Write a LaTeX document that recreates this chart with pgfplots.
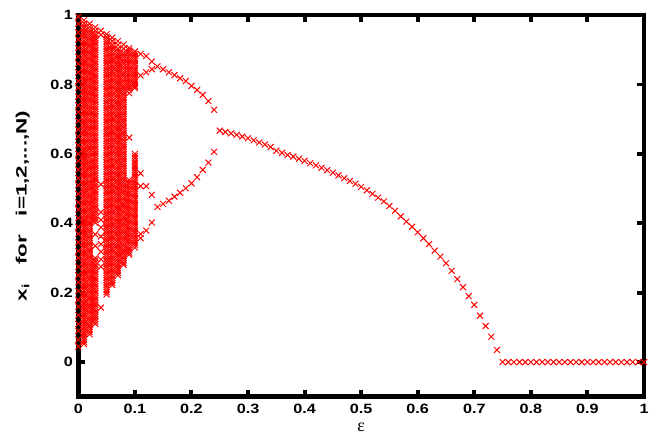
\documentclass[border=0pt]{standalone}
\usepackage{pgfplots}
\pgfplotsset{compat=1.18}
\usepackage{fontspec}
\newfontfamily\tickfont{Liberation Sans}[FakeStretch=1.2]
\newfontfamily\labfont{Liberation Sans}
\newfontfamily\epsfont{Liberation Serif}
\begin{document}
\begin{tikzpicture}
\begin{axis}[
  scale only axis, width=565.7bp, height=381.7bp,
  xmin=0, xmax=1, ymin=-0.1, ymax=1,
  axis on top,
  axis line style={line width=4.8pt, black},
  xtick={0,0.1,0.2,0.3,0.4,0.5,0.6,0.7,0.8,0.9,1},
  xticklabels={0,0.1,0.2,0.3,0.4,0.5,0.6,0.7,0.8,0.9,1},
  ytick={0,0.2,0.4,0.6,0.8,1},
  yticklabels={0,0.2,0.4,0.6,0.8,1},
  tick align=inside, major tick length=7bp,
  tick style={line width=4pt, black},
  tick label style={font=\tickfont\bfseries\fontsize{13.5bp}{15bp}\selectfont},
  yticklabel style={xshift=-2bp},
  xticklabel style={yshift=-3.5bp},
  xlabel={\epsfont\fontsize{18bp}{20bp}\selectfont ε},
  xlabel style={at={(axis description cs:0.5,0)}, anchor=center, yshift=-31bp},
  ylabel={\labfont\bfseries\fontsize{15bp}{17bp}\selectfont\scalebox{1.5}[1]{x\textsubscript{i}\ \ \ for\ \ \ i=1,2,...,N)}},
  ylabel style={at={(axis description cs:-0.098,0.5)}, anchor=center},
  pts/.style={only marks, mark=x, color=red, mark size=4.2pt, mark options={line width=1pt}},
]
% epsilon = 0.00
\addplot[pts] coordinates {(0,.045)(0,.065)(0,.09)(0,.11)(0,.135)(0,.16)(0,.18)(0,.205)(0,.23)(0,.25)(0,.275)(0,.30)(0,.32)(0,.345)(0,.37)(0,.39)(0,.415)(0,.44)(0,.46)(0,.485)(0,.51)(0,.53)(0,.555)(0,.58)(0,.60)(0,.625)(0,.65)(0,.67)(0,.695)(0,.72)(0,.74)(0,.765)(0,.79)(0,.81)(0,.835)(0,.86)(0,.88)(0,.905)(0,.93)(0,.95)(0,.975)(0,.995)};
% epsilon = 0.01
\addplot[pts] coordinates {(0.01,.052)(0.01,.065)(0.01,.079)(0.01,.092)(0.01,.106)(0.01,.119)(0.01,.133)(0.01,.146)(0.01,.160)(0.01,.172)(0.01,.187)(0.01,.199)(0.01,.214)(0.01,.226)(0.01,.240)(0.01,.254)(0.01,.266)(0.01,.281)(0.01,.293)(0.01,.308)(0.01,.320)(0.01,.335)(0.01,.347)(0.01,.362)(0.01,.375)(0.01,.388)(0.01,.402)(0.01,.414)(0.01,.429)(0.01,.441)(0.01,.456)(0.01,.468)(0.01,.483)(0.01,.495)(0.01,.510)(0.01,.522)(0.01,.537)(0.01,.549)(0.01,.564)(0.01,.577)(0.01,.590)(0.01,.604)(0.01,.616)(0.01,.631)(0.01,.643)(0.01,.658)(0.01,.670)(0.01,.685)(0.01,.697)(0.01,.712)(0.01,.724)(0.01,.739)(0.01,.752)(0.01,.765)(0.01,.779)(0.01,.791)(0.01,.806)(0.01,.818)(0.01,.833)(0.01,.845)(0.01,.860)(0.01,.872)(0.01,.887)(0.01,.899)(0.01,.914)(0.01,.926)(0.01,.941)(0.01,.953)(0.01,.968)(0.01,.985)};
\addplot[pts] coordinates {(0.01,.058)(0.01,.072)(0.01,.085)(0.01,.099)(0.01,.112)(0.01,.126)(0.01,.139)(0.01,.153)(0.01,.166)(0.01,.180)(0.01,.193)(0.01,.207)(0.01,.220)(0.01,.233)(0.01,.247)(0.01,.260)(0.01,.274)(0.01,.287)(0.01,.301)(0.01,.314)(0.01,.328)(0.01,.341)(0.01,.355)(0.01,.368)(0.01,.381)(0.01,.395)(0.01,.408)(0.01,.422)(0.01,.435)(0.01,.449)(0.01,.462)(0.01,.476)(0.01,.489)(0.01,.503)(0.01,.516)(0.01,.530)(0.01,.543)(0.01,.557)(0.01,.570)(0.01,.584)(0.01,.597)(0.01,.610)(0.01,.624)(0.01,.637)(0.01,.651)(0.01,.664)(0.01,.678)(0.01,.691)(0.01,.705)(0.01,.718)(0.01,.732)(0.01,.745)(0.01,.758)(0.01,.772)(0.01,.785)(0.01,.799)(0.01,.812)(0.01,.826)(0.01,.839)(0.01,.853)(0.01,.866)(0.01,.880)(0.01,.893)(0.01,.907)(0.01,.920)(0.01,.934)(0.01,.947)(0.01,.961)(0.01,.976)};
% epsilon = 0.02
\addplot[pts] coordinates {(0.02,.080)(0.02,.094)(0.02,.107)(0.02,.121)(0.02,.134)(0.02,.148)(0.02,.161)(0.02,.175)(0.02,.188)(0.02,.202)(0.02,.215)(0.02,.229)(0.02,.242)(0.02,.256)(0.02,.269)(0.02,.283)(0.02,.296)(0.02,.310)(0.02,.323)(0.02,.337)(0.02,.350)(0.02,.364)(0.02,.377)(0.02,.391)(0.02,.404)(0.02,.418)(0.02,.431)(0.02,.445)(0.02,.458)(0.02,.472)(0.02,.485)(0.02,.499)(0.02,.512)(0.02,.526)(0.02,.539)(0.02,.553)(0.02,.566)(0.02,.580)(0.02,.593)(0.02,.607)(0.02,.620)(0.02,.634)(0.02,.647)(0.02,.661)(0.02,.674)(0.02,.688)(0.02,.701)(0.02,.715)(0.02,.728)(0.02,.742)(0.02,.755)(0.02,.769)(0.02,.782)(0.02,.796)(0.02,.809)(0.02,.823)(0.02,.836)(0.02,.850)(0.02,.863)(0.02,.877)(0.02,.890)(0.02,.904)(0.02,.917)(0.02,.931)(0.02,.944)(0.02,.958)(0.02,.975)};
\addplot[pts] coordinates {(0.02,.087)(0.02,.101)(0.02,.114)(0.02,.128)(0.02,.141)(0.02,.155)(0.02,.168)(0.02,.182)(0.02,.195)(0.02,.209)(0.02,.222)(0.02,.236)(0.02,.249)(0.02,.263)(0.02,.276)(0.02,.290)(0.02,.303)(0.02,.317)(0.02,.330)(0.02,.344)(0.02,.357)(0.02,.371)(0.02,.384)(0.02,.398)(0.02,.411)(0.02,.425)(0.02,.438)(0.02,.452)(0.02,.465)(0.02,.479)(0.02,.492)(0.02,.506)(0.02,.519)(0.02,.533)(0.02,.546)(0.02,.560)(0.02,.573)(0.02,.587)(0.02,.600)(0.02,.614)(0.02,.627)(0.02,.641)(0.02,.654)(0.02,.668)(0.02,.681)(0.02,.695)(0.02,.708)(0.02,.722)(0.02,.735)(0.02,.749)(0.02,.762)(0.02,.776)(0.02,.789)(0.02,.803)(0.02,.816)(0.02,.830)(0.02,.843)(0.02,.857)(0.02,.870)(0.02,.884)(0.02,.897)(0.02,.911)(0.02,.924)(0.02,.938)(0.02,.951)(0.02,.966)};
% epsilon = 0.03
\addplot[pts] coordinates {(0.03,.110)(0.03,.124)(0.03,.137)(0.03,.151)(0.03,.165)(0.03,.178)(0.03,.192)(0.03,.205)(0.03,.219)(0.03,.233)(0.03,.246)(0.03,.260)(0.03,.274)(0.03,.287)(0.03,.300)(0.03,.335)(0.03,.368)(0.03,.402)(0.03,.416)(0.03,.429)(0.03,.443)(0.03,.457)(0.03,.470)(0.03,.484)(0.03,.497)(0.03,.511)(0.03,.525)(0.03,.538)(0.03,.552)(0.03,.566)(0.03,.579)(0.03,.593)(0.03,.606)(0.03,.620)(0.03,.634)(0.03,.647)(0.03,.661)(0.03,.675)(0.03,.688)(0.03,.702)(0.03,.715)(0.03,.729)(0.03,.743)(0.03,.756)(0.03,.770)(0.03,.784)(0.03,.797)(0.03,.811)(0.03,.824)(0.03,.838)(0.03,.852)(0.03,.865)(0.03,.879)(0.03,.893)(0.03,.906)(0.03,.920)(0.03,.933)(0.03,.947)(0.03,.965)};
\addplot[pts] coordinates {(0.03,.117)(0.03,.131)(0.03,.144)(0.03,.158)(0.03,.171)(0.03,.185)(0.03,.199)(0.03,.212)(0.03,.226)(0.03,.240)(0.03,.253)(0.03,.267)(0.03,.280)(0.03,.293)(0.03,.409)(0.03,.422)(0.03,.436)(0.03,.450)(0.03,.463)(0.03,.477)(0.03,.491)(0.03,.504)(0.03,.518)(0.03,.531)(0.03,.545)(0.03,.559)(0.03,.572)(0.03,.586)(0.03,.600)(0.03,.613)(0.03,.627)(0.03,.640)(0.03,.654)(0.03,.668)(0.03,.681)(0.03,.695)(0.03,.709)(0.03,.722)(0.03,.736)(0.03,.750)(0.03,.763)(0.03,.777)(0.03,.790)(0.03,.804)(0.03,.818)(0.03,.831)(0.03,.845)(0.03,.859)(0.03,.872)(0.03,.886)(0.03,.899)(0.03,.913)(0.03,.927)(0.03,.940)(0.03,.955)};
% epsilon = 0.04
\addplot[pts] coordinates {(0.04,.955)(0.04,.943)(0.04,.512)(0.04,.432)(0.04,.410)(0.04,.388)(0.04,.362)(0.04,.340)(0.04,.318)(0.04,.296)(0.04,.275)(0.04,.157)};
% epsilon = 0.05
\addplot[pts] coordinates {(0.05,.195)(0.05,.209)(0.05,.222)(0.05,.236)(0.05,.250)(0.05,.263)(0.05,.277)(0.05,.290)(0.05,.304)(0.05,.318)(0.05,.331)(0.05,.345)(0.05,.358)(0.05,.372)(0.05,.386)(0.05,.399)(0.05,.413)(0.05,.426)(0.05,.440)(0.05,.454)(0.05,.467)(0.05,.481)(0.05,.494)(0.05,.508)(0.05,.522)(0.05,.535)(0.05,.549)(0.05,.562)(0.05,.576)(0.05,.590)(0.05,.603)(0.05,.617)(0.05,.630)(0.05,.644)(0.05,.658)(0.05,.671)(0.05,.685)(0.05,.698)(0.05,.712)(0.05,.726)(0.05,.739)(0.05,.753)(0.05,.766)(0.05,.780)(0.05,.794)(0.05,.807)(0.05,.821)(0.05,.834)(0.05,.848)(0.05,.862)(0.05,.875)(0.05,.889)(0.05,.902)(0.05,.916)(0.05,.930)(0.05,.945)};
\addplot[pts] coordinates {(0.05,.202)(0.05,.216)(0.05,.229)(0.05,.243)(0.05,.256)(0.05,.270)(0.05,.284)(0.05,.297)(0.05,.311)(0.05,.324)(0.05,.338)(0.05,.352)(0.05,.365)(0.05,.379)(0.05,.392)(0.05,.406)(0.05,.420)(0.05,.433)(0.05,.447)(0.05,.460)(0.05,.474)(0.05,.488)(0.05,.501)(0.05,.515)(0.05,.528)(0.05,.542)(0.05,.556)(0.05,.569)(0.05,.583)(0.05,.596)(0.05,.610)(0.05,.624)(0.05,.637)(0.05,.651)(0.05,.664)(0.05,.678)(0.05,.692)(0.05,.705)(0.05,.719)(0.05,.732)(0.05,.746)(0.05,.760)(0.05,.773)(0.05,.787)(0.05,.800)(0.05,.814)(0.05,.828)(0.05,.841)(0.05,.855)(0.05,.868)(0.05,.882)(0.05,.896)(0.05,.909)(0.05,.923)(0.05,.937)};
% epsilon = 0.06
\addplot[pts] coordinates {(0.06,.222)(0.06,.235)(0.06,.249)(0.06,.262)(0.06,.276)(0.06,.290)(0.06,.303)(0.06,.317)(0.06,.330)(0.06,.344)(0.06,.358)(0.06,.371)(0.06,.385)(0.06,.398)(0.06,.412)(0.06,.426)(0.06,.439)(0.06,.453)(0.06,.466)(0.06,.480)(0.06,.494)(0.06,.507)(0.06,.521)(0.06,.534)(0.06,.548)(0.06,.562)(0.06,.575)(0.06,.589)(0.06,.602)(0.06,.616)(0.06,.630)(0.06,.643)(0.06,.657)(0.06,.670)(0.06,.684)(0.06,.698)(0.06,.711)(0.06,.725)(0.06,.738)(0.06,.752)(0.06,.766)(0.06,.779)(0.06,.793)(0.06,.806)(0.06,.820)(0.06,.834)(0.06,.847)(0.06,.861)(0.06,.874)(0.06,.888)(0.06,.902)(0.06,.915)(0.06,.935)};
\addplot[pts] coordinates {(0.06,.228)(0.06,.242)(0.06,.256)(0.06,.269)(0.06,.283)(0.06,.296)(0.06,.310)(0.06,.324)(0.06,.337)(0.06,.351)(0.06,.364)(0.06,.378)(0.06,.392)(0.06,.405)(0.06,.419)(0.06,.432)(0.06,.446)(0.06,.460)(0.06,.473)(0.06,.487)(0.06,.500)(0.06,.514)(0.06,.528)(0.06,.541)(0.06,.555)(0.06,.568)(0.06,.582)(0.06,.596)(0.06,.609)(0.06,.623)(0.06,.636)(0.06,.650)(0.06,.664)(0.06,.677)(0.06,.691)(0.06,.704)(0.06,.718)(0.06,.732)(0.06,.745)(0.06,.759)(0.06,.772)(0.06,.786)(0.06,.800)(0.06,.813)(0.06,.827)(0.06,.840)(0.06,.854)(0.06,.868)(0.06,.881)(0.06,.895)(0.06,.908)(0.06,.925)};
% epsilon = 0.07
\addplot[pts] coordinates {(0.07,.250)(0.07,.264)(0.07,.277)(0.07,.291)(0.07,.305)(0.07,.318)(0.07,.332)(0.07,.345)(0.07,.359)(0.07,.373)(0.07,.386)(0.07,.400)(0.07,.413)(0.07,.427)(0.07,.441)(0.07,.454)(0.07,.468)(0.07,.481)(0.07,.495)(0.07,.509)(0.07,.522)(0.07,.536)(0.07,.549)(0.07,.563)(0.07,.577)(0.07,.590)(0.07,.604)(0.07,.617)(0.07,.631)(0.07,.645)(0.07,.658)(0.07,.672)(0.07,.685)(0.07,.699)(0.07,.713)(0.07,.726)(0.07,.740)(0.07,.753)(0.07,.767)(0.07,.781)(0.07,.794)(0.07,.808)(0.07,.821)(0.07,.835)(0.07,.849)(0.07,.862)(0.07,.876)(0.07,.889)(0.07,.903)(0.07,.925)};
\addplot[pts] coordinates {(0.07,.257)(0.07,.270)(0.07,.284)(0.07,.298)(0.07,.311)(0.07,.325)(0.07,.338)(0.07,.352)(0.07,.366)(0.07,.379)(0.07,.393)(0.07,.406)(0.07,.420)(0.07,.434)(0.07,.447)(0.07,.461)(0.07,.474)(0.07,.488)(0.07,.502)(0.07,.515)(0.07,.529)(0.07,.542)(0.07,.556)(0.07,.570)(0.07,.583)(0.07,.597)(0.07,.610)(0.07,.624)(0.07,.638)(0.07,.651)(0.07,.665)(0.07,.678)(0.07,.692)(0.07,.706)(0.07,.719)(0.07,.733)(0.07,.746)(0.07,.760)(0.07,.774)(0.07,.787)(0.07,.801)(0.07,.814)(0.07,.828)(0.07,.842)(0.07,.855)(0.07,.869)(0.07,.882)(0.07,.896)(0.07,.914)};
% epsilon = 0.08
\addplot[pts] coordinates {(0.08,.280)(0.08,.293)(0.08,.307)(0.08,.320)(0.08,.334)(0.08,.348)(0.08,.361)(0.08,.375)(0.08,.388)(0.08,.402)(0.08,.416)(0.08,.429)(0.08,.443)(0.08,.456)(0.08,.470)(0.08,.484)(0.08,.497)(0.08,.511)(0.08,.524)(0.08,.538)(0.08,.552)(0.08,.565)(0.08,.579)(0.08,.592)(0.08,.606)(0.08,.620)(0.08,.633)(0.08,.647)(0.08,.660)(0.08,.674)(0.08,.688)(0.08,.701)(0.08,.715)(0.08,.728)(0.08,.742)(0.08,.756)(0.08,.769)(0.08,.783)(0.08,.796)(0.08,.810)(0.08,.824)(0.08,.837)(0.08,.851)(0.08,.864)(0.08,.878)(0.08,.892)(0.08,.915)};
\addplot[pts] coordinates {(0.08,.286)(0.08,.300)(0.08,.314)(0.08,.327)(0.08,.341)(0.08,.354)(0.08,.368)(0.08,.382)(0.08,.395)(0.08,.409)(0.08,.422)(0.08,.436)(0.08,.450)(0.08,.463)(0.08,.477)(0.08,.490)(0.08,.504)(0.08,.518)(0.08,.531)(0.08,.545)(0.08,.558)(0.08,.572)(0.08,.586)(0.08,.599)(0.08,.613)(0.08,.626)(0.08,.640)(0.08,.654)(0.08,.667)(0.08,.681)(0.08,.694)(0.08,.708)(0.08,.722)(0.08,.735)(0.08,.749)(0.08,.762)(0.08,.776)(0.08,.790)(0.08,.803)(0.08,.817)(0.08,.830)(0.08,.844)(0.08,.858)(0.08,.871)(0.08,.885)(0.08,.903)};
% epsilon = 0.09
\addplot[pts] coordinates {(0.09,.905)(0.09,.892)(0.09,.878)(0.09,.865)(0.09,.851)(0.09,.838)(0.09,.824)(0.09,.810)(0.09,.797)(0.09,.785)(0.09,.775)(0.09,.647)(0.09,.525)(0.09,.512)(0.09,.498)(0.09,.485)(0.09,.471)(0.09,.458)(0.09,.444)(0.09,.431)(0.09,.417)(0.09,.404)(0.09,.390)(0.09,.377)(0.09,.363)(0.09,.350)(0.09,.336)(0.09,.323)(0.09,.310)};
\addplot[pts] coordinates {(0.09,.898)(0.09,.885)(0.09,.871)(0.09,.858)(0.09,.844)(0.09,.831)(0.09,.817)(0.09,.803)(0.09,.791)(0.09,.518)(0.09,.505)(0.09,.491)(0.09,.478)(0.09,.464)(0.09,.451)(0.09,.437)(0.09,.424)(0.09,.410)(0.09,.397)(0.09,.383)(0.09,.370)(0.09,.356)(0.09,.343)(0.09,.329)(0.09,.316)};
% epsilon = 0.10
\addplot[pts] coordinates {(0.10,.895)(0.10,.882)(0.10,.868)(0.10,.855)(0.10,.841)(0.10,.828)(0.10,.814)(0.10,.801)(0.10,.790)(0.10,.600)(0.10,.587)(0.10,.573)(0.10,.560)(0.10,.546)(0.10,.533)(0.10,.519)(0.10,.506)(0.10,.492)(0.10,.479)(0.10,.465)(0.10,.452)(0.10,.438)(0.10,.425)(0.10,.411)(0.10,.398)(0.10,.384)(0.10,.371)(0.10,.357)(0.10,.344)(0.10,.330)};
\addplot[pts] coordinates {(0.10,.888)(0.10,.875)(0.10,.861)(0.10,.848)(0.10,.834)(0.10,.821)(0.10,.807)(0.10,.795)(0.10,.593)(0.10,.580)(0.10,.566)(0.10,.553)(0.10,.539)(0.10,.526)(0.10,.512)(0.10,.499)(0.10,.485)(0.10,.472)(0.10,.458)(0.10,.445)(0.10,.431)(0.10,.418)(0.10,.404)(0.10,.391)(0.10,.377)(0.10,.364)(0.10,.350)(0.10,.337)};
% period-2 / period-4 region
\addplot[pts] coordinates {
(0.11,.888)(0.11,.826)(0.11,.544)(0.11,.507)(0.11,.369)(0.11,.357)
(0.12,.882)(0.12,.835)(0.12,.507)(0.12,.379)
(0.13,.866)(0.13,.844)(0.13,.482)(0.13,.402)
(0.14,.852)(0.14,.447)
(0.15,.844)(0.15,.456)
(0.16,.835)(0.16,.465)
(0.17,.827)(0.17,.477)
(0.18,.818)(0.18,.488)
(0.19,.810)(0.19,.501)
(0.20,.796)(0.20,.515)
(0.21,.784)(0.21,.533)
(0.22,.770)(0.22,.554)
(0.23,.752)(0.23,.575)
(0.24,.727)(0.24,.606)};
% single branch
\addplot[pts] coordinates {
(0.25,.667)(0.26,.663)(0.27,.659)(0.28,.655)(0.29,.650)(0.30,.645)(0.31,.639)(0.32,.633)(0.33,.627)(0.34,.620)
(0.35,.609)(0.36,.603)(0.37,.597)(0.38,.592)(0.39,.586)(0.40,.580)(0.41,.573)(0.42,.567)(0.43,.560)(0.44,.553)
(0.45,.546)(0.46,.538)(0.47,.530)(0.48,.522)(0.49,.514)(0.50,.505)(0.51,.495)(0.52,.485)(0.53,.474)(0.54,.463)
(0.55,.450)(0.56,.436)(0.57,.420)(0.58,.405)(0.59,.390)(0.60,.374)(0.61,.357)(0.62,.340)(0.63,.321)(0.64,.304)
(0.65,.285)(0.66,.263)(0.67,.239)(0.68,.216)(0.69,.190)(0.70,.165)(0.71,.134)(0.72,.104)(0.73,.073)(0.74,.035)};
% synchronized zero state
\addplot[pts] coordinates {
(0.75,0)(0.76,0)(0.77,0)(0.78,0)(0.79,0)(0.80,0)(0.81,0)(0.82,0)(0.83,0)(0.84,0)(0.85,0)(0.86,0)(0.87,0)
(0.88,0)(0.89,0)(0.90,0)(0.91,0)(0.92,0)(0.93,0)(0.94,0)(0.95,0)(0.96,0)(0.97,0)(0.98,0)(0.99,0)(1.00,0)};
\end{axis}
\pgfresetboundingbox
\path[use as bounding box] ([xshift=-78.3bp,yshift=-39.2bp]current axis.south west) rectangle ([xshift=20bp,yshift=15.1bp]current axis.north east);
\end{tikzpicture}
\end{document}
